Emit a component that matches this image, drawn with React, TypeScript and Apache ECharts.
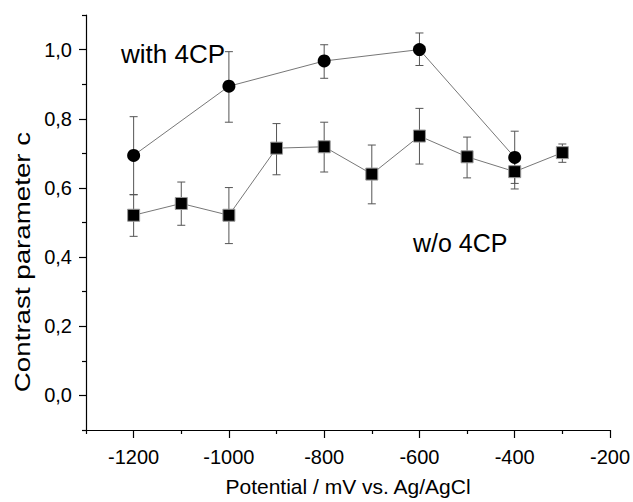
import React, { useEffect, useRef } from "react";
import * as echarts from "echarts";

const xWith = [-1200, -1000, -800, -600, -400];
const yWith = [0.694, 0.894, 0.967, 1.0, 0.688];
const lowWith = [0.58, 0.79, 0.917, 0.954, 0.613];
const highWith = [0.806, 0.994, 1.014, 1.048, 0.764];

const xWithout = [-1200, -1100, -1000, -900, -800, -700, -600, -500, -400, -300];
const yWithout = [0.521, 0.555, 0.521, 0.715, 0.719, 0.64, 0.75, 0.69, 0.647, 0.702];
const lowWithout = [0.46, 0.492, 0.439, 0.638, 0.646, 0.554, 0.669, 0.629, 0.597, 0.674];
const highWithout = [0.581, 0.617, 0.601, 0.786, 0.79, 0.724, 0.83, 0.747, 0.697, 0.727];

const xMajorTicks = [-1200, -1000, -800, -600, -400, -200];
const xMinorTicks = [-1300, -1100, -900, -700, -500, -300];
const yMajorTicks = [0, 0.2, 0.4, 0.6, 0.8, 1.0];
const yMinorTicks = [-0.1, 0.1, 0.3, 0.5, 0.7, 0.9, 1.1];

const FONT = "'Liberation Sans', Arial, Helvetica, sans-serif";

function errorSeries(xs: number[], lo: number[], hi: number[]) {
  return {
    type: "custom",
    z: 1,
    silent: true,
    xAxisIndex: 0,
    yAxisIndex: 0,
    data: xs.map((x, i) => [x, lo[i], hi[i]]),
    encode: { x: 0, y: [1, 2] },
    renderItem: (params: any, api: any) => {
      const x = api.value(0);
      const pLo = api.coord([x, api.value(1)]);
      const pHi = api.coord([x, api.value(2)]);
      const half = 4;
      const style = { stroke: "#555", lineWidth: 1 };
      return {
        type: "group",
        children: [
          { type: "line", shape: { x1: pLo[0], y1: pLo[1], x2: pHi[0], y2: pHi[1] }, style },
          { type: "line", shape: { x1: pHi[0] - half, y1: pHi[1], x2: pHi[0] + half, y2: pHi[1] }, style },
          { type: "line", shape: { x1: pLo[0] - half, y1: pLo[1], x2: pLo[0] + half, y2: pLo[1] }, style },
        ],
      };
    },
  };
}

export default function App() {
  const ref = useRef<HTMLDivElement>(null);
  useEffect(() => {
    if (!ref.current) return;
    const chart = echarts.init(ref.current, undefined, { renderer: "svg" });
    const axisLineStyle = { color: "#000", width: 1.2 };
    chart.setOption({
      animation: false,
      backgroundColor: "#fff",
      textStyle: { fontFamily: FONT },
      grid: { left: 86, right: 23, top: 15, bottom: 64 },
      xAxis: [
        {
          type: "value",
          min: -1300,
          max: -200,
          position: "bottom",
          name: "Potential / mV vs. Ag/AgCl",
          nameLocation: "middle",
          nameGap: 46,
          nameTextStyle: { fontSize: 21, color: "#000", fontFamily: FONT },
          axisLine: { show: true, onZero: false, lineStyle: axisLineStyle },
          axisTick: { show: true, length: 8, customValues: xMajorTicks, lineStyle: { color: "#000", width: 1.2 } },
          axisLabel: {
            customValues: xMajorTicks,
            fontSize: 20,
            color: "#000",
            margin: 17,
            fontFamily: FONT,
            formatter: (v: number) => String(v),
          },
          splitLine: { show: false },
        },
        {
          type: "value",
          min: -1300,
          max: -200,
          position: "bottom",
          axisLine: { show: false, onZero: false },
          axisTick: { show: true, length: 4, customValues: xMinorTicks, lineStyle: { color: "#000", width: 1.2 } },
          axisLabel: { show: false },
          splitLine: { show: false },
        },
      ],
      yAxis: [
        {
          type: "value",
          min: -0.1,
          max: 1.1,
          position: "left",
          axisLine: { show: true, onZero: false, lineStyle: axisLineStyle },
          axisTick: { show: true, length: 7, customValues: yMajorTicks, lineStyle: { color: "#000", width: 1.2 } },
          axisLabel: {
            customValues: yMajorTicks,
            fontSize: 20,
            color: "#000",
            margin: 14,
            fontFamily: FONT,
            formatter: (v: number) => v.toFixed(1).replace(".", ","),
          },
          splitLine: { show: false },
        },
        {
          type: "value",
          min: -0.1,
          max: 1.1,
          position: "left",
          axisLine: { show: false, onZero: false },
          axisTick: { show: true, length: 4, customValues: yMinorTicks, lineStyle: { color: "#000", width: 1.2 } },
          axisLabel: { show: false },
          splitLine: { show: false },
        },
      ],
      series: [
        errorSeries(xWith, lowWith, highWith),
        errorSeries(xWithout, lowWithout, highWithout),
        {
          type: "line",
          z: 2,
          xAxisIndex: 0,
          yAxisIndex: 0,
          data: xWith.map((x, i) => [x, yWith[i]]),
          symbol: "circle",
          symbolSize: 13,
          itemStyle: { color: "#000" },
          lineStyle: { color: "#777", width: 1 },
        },
        {
          type: "line",
          z: 3,
          xAxisIndex: 0,
          yAxisIndex: 0,
          data: xWithout.map((x, i) => [x, yWithout[i]]),
          symbol: "rect",
          symbolSize: 12,
          itemStyle: { color: "#000", borderColor: "#999", borderWidth: 1 },
          lineStyle: { color: "#777", width: 1 },
        },
      ],
      graphic: [
        {
          type: "text",
          style: { text: "with 4CP", x: 121, y: 54, font: `26px ${FONT}`, fill: "#000", textVerticalAlign: "middle" },
        },
        {
          type: "text",
          style: { text: "w/o 4CP", x: 413, y: 243, font: `25px ${FONT}`, fill: "#000", textVerticalAlign: "middle" },
        },
        {
          type: "text",
          x: 22,
          y: 262,
          rotation: Math.PI / 2,
          scaleX: 1.26,
          style: {
            text: "Contrast parameter c",
            x: 0,
            y: 0,
            font: `22px ${FONT}`,
            fill: "#000",
            textAlign: "center",
            textVerticalAlign: "middle",
          },
        },
      ],
    });
    return () => chart.dispose();
  }, []);
  return <div ref={ref} style={{ position: "fixed", left: 0, top: 0, width: 633, height: 502 }} />;
}
